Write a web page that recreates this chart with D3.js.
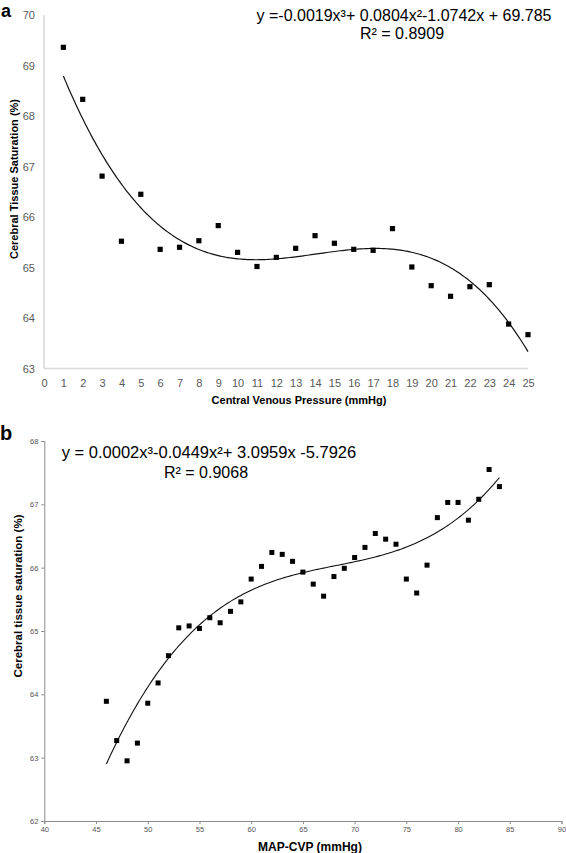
<!DOCTYPE html>
<html><head><meta charset="utf-8">
<script src="https://cdn.jsdelivr.net/npm/d3@7"></script>
<style>
html,body{margin:0;padding:0;background:#fff;}
svg{display:block;font-family:"Liberation Sans",Arial,Helvetica,sans-serif;}
</style></head>
<body>
<svg id="chart" width="566" height="853"></svg>
<script>
// ---- Panel a data ----
const cvpValues = [1,2,3,4,5,6,7,8,9,10,11,12,13,14,15,16,17,18,19,20,21,22,23,24,25];
const satA = [69.36,68.33,66.81,65.52,66.45,65.36,65.40,65.53,65.83,65.30,65.02,65.20,65.38,65.63,65.48,65.36,65.34,65.77,65.01,64.64,64.43,64.62,64.66,63.88,63.67];
const xTicksA = d3.range(0,26,1);
const yTicksA = [63,64,65,66,67,68,69,70];
const eqA = "y =-0.0019x³+ 0.0804x²-1.0742x + 69.785";
const r2A = "R² = 0.8909";

// ---- Panel b data ----
const mapCvp = [46,47,48,49,50,51,52,53,54,55,56,57,58,59,60,61,62,63,64,65,66,67,68,69,70,71,72,73,74,75,76,77,78,79,80,81,82,83,84];
const satB = [63.89,63.27,62.95,63.23,63.86,64.18,64.61,65.05,65.08,65.04,65.21,65.13,65.31,65.46,65.82,66.02,66.24,66.21,66.10,65.93,65.74,65.55,65.86,65.99,66.16,66.32,66.54,66.45,66.37,65.82,65.60,66.04,66.79,67.03,67.03,66.75,67.08,67.55,67.28];
const xTicksB = [40,45,50,55,60,65,70,75,80,85,90];
const yTicksB = [62,63,64,65,66,67,68];
const eqB = "y = 0.0002x³-0.0449x²+ 3.0959x -5.7926";
const r2B = "R² = 0.9068";

// cubic least-squares trendline (as in the original spreadsheet trendline)
function cubicFit(xs, ys){
  const m = d3.mean(xs);
  const n = 4;
  const A = Array.from({length:n},()=>new Array(n+1).fill(0));
  xs.forEach((x,i)=>{
    const t = x - m;
    const p = [1,t,t*t,t*t*t];
    for(let r=0;r<n;r++){
      for(let c=0;c<n;c++) A[r][c]+=p[r]*p[c];
      A[r][n]+=p[r]*ys[i];
    }
  });
  for(let i=0;i<n;i++){
    let mx=i; for(let r=i+1;r<n;r++) if(Math.abs(A[r][i])>Math.abs(A[mx][i])) mx=r;
    [A[i],A[mx]]=[A[mx],A[i]];
    for(let r=0;r<n;r++){ if(r===i) continue; const f=A[r][i]/A[i][i]; for(let c=i;c<=n;c++) A[r][c]-=f*A[i][c]; }
  }
  const b = A.map((row,i)=>row[n]/row[i]);
  return x => { const t=x-m; return b[0]+b[1]*t+b[2]*t*t+b[3]*t*t*t; };
}

const svg = d3.select("#chart");

// ================= Panel a =================
{
  const x = d3.scaleLinear().domain([0,25]).range([44,528]);
  const y = d3.scaleLinear().domain([63,70]).range([368.5,15]);
  const g = svg.append("g");
  g.append("line").attr("x1",x(0)).attr("x2",x(0)).attr("y1",y(70)).attr("y2",y(63))
    .attr("stroke","#d9d9d9").attr("stroke-width",1.5);
  g.append("line").attr("x1",x(0)).attr("x2",x(25)).attr("y1",y(63)).attr("y2",y(63))
    .attr("stroke","#d9d9d9").attr("stroke-width",1.5);
  const ya = g.append("g").attr("transform",`translate(${x(0)},0)`)
    .call(d3.axisLeft(y).tickValues(yTicksA).tickSize(0).tickPadding(9).tickFormat(d3.format("d")));
  ya.select(".domain").remove();
  ya.selectAll("text").attr("fill","#595959").style("font-size","11px").style("font-family","'Liberation Sans',Arial,sans-serif");
  const xa = g.append("g").attr("transform",`translate(0,${y(63)})`)
    .call(d3.axisBottom(x).tickValues(xTicksA).tickSize(0).tickPadding(11).tickFormat(d3.format("d")));
  xa.select(".domain").remove();
  xa.selectAll("text").attr("fill","#595959").style("font-size","11px").style("font-family","'Liberation Sans',Arial,sans-serif");
  const fA = cubicFit(cvpValues, satA);
  const xsA = d3.range(1, 25.001, 0.1);
  g.append("path").datum(xsA)
    .attr("d", d3.line().x(d=>x(d)).y(d=>y(fA(d))))
    .attr("fill","none").attr("stroke","#111").attr("stroke-width",1.2);
  g.selectAll("rect.pt").data(cvpValues).join("rect").attr("class","pt")
    .attr("x",(d)=>x(d)-2.6).attr("y",(d,i)=>y(satA[i])-2.6)
    .attr("width",5.2).attr("height",5.2).attr("fill","#000");
  g.append("text").attr("x",299).attr("y",404).attr("text-anchor","middle")
    .style("font-weight","bold").style("font-size","11px").text("Central Venous Pressure (mmHg)");
  g.append("text").attr("transform","translate(18,179) rotate(-90)").attr("text-anchor","middle")
    .style("font-weight","bold").style("font-size","11px").text("Cerebral Tissue Saturation (%)");
  g.append("text").attr("x",404).attr("y",21).attr("text-anchor","middle")
    .style("font-size","16px").text(eqA);
  g.append("text").attr("x",402).attr("y",39).attr("text-anchor","middle")
    .style("font-size","16px").text(r2A);
  g.append("text").attr("x",1).attr("y",17).style("font-weight","bold").style("font-size","18px").text("a");
}

// ================= Panel b =================
{
  const x = d3.scaleLinear().domain([40,90]).range([44.3,561.5]);
  const y = d3.scaleLinear().domain([62,68]).range([821,441]);
  const g = svg.append("g");
  const ya = g.append("g").attr("transform",`translate(${x(40)},0)`)
    .call(d3.axisLeft(y).tickValues(yTicksB).tickSize(3).tickPadding(3).tickFormat(d3.format("d")));
  const xa = g.append("g").attr("transform",`translate(0,${y(62)})`)
    .call(d3.axisBottom(x).tickValues(xTicksB).tickSize(3).tickPadding(3).tickFormat(d3.format("d")));
  [ya,xa].forEach(a=>{
    a.select(".domain").attr("stroke","#8c8c8c");
    a.selectAll(".tick line").attr("stroke","#8c8c8c");
    a.selectAll("text").attr("fill","#555").style("font-size","7.5px").style("font-family","'Liberation Sans',Arial,sans-serif");
  });
  const fB = cubicFit(mapCvp, satB);
  const xsB = d3.range(46, 84.001, 0.2);
  g.append("path").datum(xsB)
    .attr("d", d3.line().x(d=>x(d)).y(d=>y(fB(d))))
    .attr("fill","none").attr("stroke","#111").attr("stroke-width",1.1);
  g.selectAll("rect.pt").data(mapCvp).join("rect").attr("class","pt")
    .attr("x",(d)=>x(d)-2.5).attr("y",(d,i)=>y(satB[i])-2.5)
    .attr("width",5).attr("height",5).attr("fill","#000");
  g.append("text").attr("x",310).attr("y",851).attr("text-anchor","middle")
    .style("font-weight","bold").style("font-size","12px").text("MAP-CVP (mmHg)");
  g.append("text").attr("transform","translate(22,596) rotate(-90)").attr("text-anchor","middle")
    .style("font-weight","bold").style("font-size","11.5px").text("Cerebral tissue saturation (%)");
  g.append("text").attr("x",209).attr("y",458).attr("text-anchor","middle")
    .style("font-size","16.5px").text(eqB);
  g.append("text").attr("x",206).attr("y",478).attr("text-anchor","middle")
    .style("font-size","16px").text(r2B);
  g.append("text").attr("x",0).attr("y",440).style("font-weight","bold").style("font-size","20px").text("b");
}
</script>
</body></html>
